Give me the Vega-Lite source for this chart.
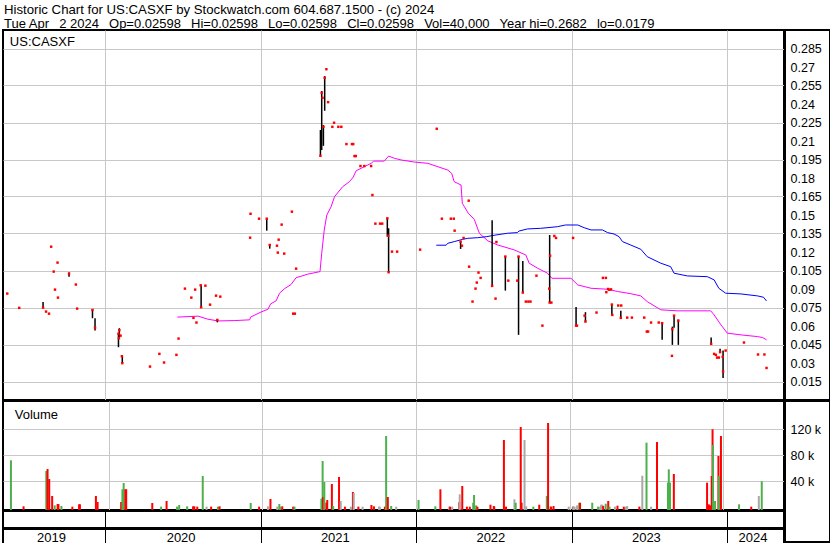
{
"$schema":"https://vega.github.io/schema/vega-lite/v6.json",
"background":"white",
"padding":{"left":2,"top":2,"right":1,"bottom":1},
"title":{"text":"Historic Chart for US:CASXF by Stockwatch.com 604.687.1500 - (c) 2024","subtitle":"Tue Apr\u2002 2 2024\u2002 Op=0.02598\u2002 Hi=0.02598\u2002 Lo=0.02598\u2002 Cl=0.02598\u2002 Vol=40,000\u2002 Year hi=0.2682\u2002 lo=0.0179","anchor":"start","frame":"group","font":"Liberation Sans","fontSize":13.2,"fontWeight":"normal","color":"black","subtitleFont":"Liberation Sans","subtitleFontSize":13,"subtitleColor":"black","subtitlePadding":1,"offset":-3,"dx":1},
"config":{"concat":{"spacing":-2},"view":{"stroke":"black","strokeWidth":2},"axis":{"gridColor":"#c8c8c8","gridWidth":1,"gridOpacity":1},"font":"Liberation Sans"},
"datasets":{
"prices":[
{"date":"2019-05-17","close":0.0863},
{"date":"2019-06-14","close":0.0747},
{"date":"2019-08-09","lo":0.0752,"hi":0.0795,"close":0.0749},
{"date":"2019-08-16","close":0.0717},
{"date":"2019-08-23","close":0.0700},
{"date":"2019-08-28","close":0.1243},
{"date":"2019-09-03","close":0.1041},
{"date":"2019-09-06","close":0.0895},
{"date":"2019-09-12","close":0.1114},
{"date":"2019-09-13","close":0.083},
{"date":"2019-10-09","lo":0.1000,"hi":0.1033,"close":0.1025},
{"date":"2019-10-25","close":0.0936},
{"date":"2019-10-28","close":0.0741},
{"date":"2019-12-03","lo":0.0663,"hi":0.0736,"close":0.073},
{"date":"2019-12-09","lo":0.0563,"hi":0.0663,"close":0.0587},
{"date":"2020-02-02","lo":0.0428,"hi":0.0538,"close":0.0538},
{"date":"2020-02-03","close":0.0501},
{"date":"2020-02-04","lo":0.0501,"hi":0.0582,"close":0.0566},
{"date":"2020-02-07","close":0.0522},
{"date":"2020-02-10","close":0.0355},
{"date":"2020-02-11","lo":0.0299,"hi":0.036,"close":0.0299},
{"date":"2020-04-16","close":0.0271},
{"date":"2020-05-08","close":0.0374},
{"date":"2020-05-19","close":0.0304},
{"date":"2020-06-17","close":0.0366},
{"date":"2020-06-22","close":0.0498},
{"date":"2020-07-07","close":0.0903},
{"date":"2020-07-22","close":0.083},
{"date":"2020-07-27","close":0.0666},
{"date":"2020-07-31","close":0.0895},
{"date":"2020-08-03","close":0.0628},
{"date":"2020-08-13","close":0.093},
{"date":"2020-08-14","lo":0.0752,"hi":0.093,"close":0.0752},
{"date":"2020-08-24","close":0.0927},
{"date":"2020-09-04","close":0.0773},
{"date":"2020-09-18","close":0.0846},
{"date":"2020-09-21","lo":0.063,"hi":0.0649,"close":0.0649},
{"date":"2020-09-28","close":0.0838},
{"date":"2020-12-07","close":0.1316},
{"date":"2020-12-08","close":0.151},
{"date":"2020-12-28","close":0.147},
{"date":"2021-01-15","lo":0.1373,"hi":0.1473,"close":0.147},
{"date":"2021-01-22","lo":0.1227,"hi":0.1257,"close":0.1257},
{"date":"2021-02-08","close":0.1251},
{"date":"2021-02-10","close":0.1195},
{"date":"2021-02-12","close":0.130},
{"date":"2021-02-19","close":0.1422},
{"date":"2021-02-25","close":0.1187},
{"date":"2021-03-15","close":0.1527},
{"date":"2021-03-18","close":0.07},
{"date":"2021-03-22","close":0.07},
{"date":"2021-03-25","close":0.1065},
{"date":"2021-05-21","lo":0.1986,"hi":0.2189,"close":0.198},
{"date":"2021-05-24","lo":0.2027,"hi":0.2505,"close":0.249},
{"date":"2021-05-26","close":0.245},
{"date":"2021-05-28","lo":0.2061,"hi":0.2229,"close":0.2215},
{"date":"2021-05-31","lo":0.2345,"hi":0.2626,"close":0.2612},
{"date":"2021-06-04","close":0.2682},
{"date":"2021-06-08","close":0.2415},
{"date":"2021-06-18","close":0.2215},
{"date":"2021-06-22","close":0.2248},
{"date":"2021-07-02","close":0.2215},
{"date":"2021-07-09","close":0.2215},
{"date":"2021-07-21","close":0.2075},
{"date":"2021-08-03","close":0.2075},
{"date":"2021-08-06","close":0.2075},
{"date":"2021-08-09","close":0.1978},
{"date":"2021-08-12","close":0.1978},
{"date":"2021-08-23","close":0.1897},
{"date":"2021-09-01","close":0.1897},
{"date":"2021-09-17","close":0.1897},
{"date":"2021-09-20","close":0.1662},
{"date":"2021-09-27","close":0.143},
{"date":"2021-10-08","close":0.143},
{"date":"2021-10-13","close":0.143},
{"date":"2021-10-25","lo":0.1324,"hi":0.1473,"close":0.1473},
{"date":"2021-10-27","close":0.1332},
{"date":"2021-10-28","lo":0.1036,"hi":0.1392,"close":0.1036},
{"date":"2021-11-05","close":0.1203},
{"date":"2021-11-17","close":0.1203},
{"date":"2022-01-10","close":0.1219},
{"date":"2022-02-18","close":0.2199},
{"date":"2022-03-02","close":0.147},
{"date":"2022-03-23","close":0.147},
{"date":"2022-03-30","close":0.147},
{"date":"2022-04-01","close":0.1373},
{"date":"2022-04-15","lo":0.1225,"hi":0.1284,"close":0.1284},
{"date":"2022-04-18","close":0.1251},
{"date":"2022-04-22","close":0.1314},
{"date":"2022-05-04","close":0.1616},
{"date":"2022-05-05","close":0.1081},
{"date":"2022-05-13","close":0.0798},
{"date":"2022-05-20","close":0.0903},
{"date":"2022-05-23","close":0.0952},
{"date":"2022-05-27","close":0.1033},
{"date":"2022-06-01","close":0.099},
{"date":"2022-06-28","lo":0.0925,"hi":0.1457,"close":0.0925},
{"date":"2022-07-06","close":0.0822},
{"date":"2022-07-08","close":0.1281},
{"date":"2022-07-29","lo":0.0887,"hi":0.1166,"close":0.1163},
{"date":"2022-08-05","close":0.0968},
{"date":"2022-08-26","close":0.0968},
{"date":"2022-08-29","lo":0.0528,"hi":0.1166,"close":0.1163},
{"date":"2022-09-08","lo":0.0871,"hi":0.1127,"close":0.0871},
{"date":"2022-09-15","close":0.0798},
{"date":"2022-09-21","close":0.0798},
{"date":"2022-09-26","close":0.0798},
{"date":"2022-10-10","close":0.1008},
{"date":"2022-10-24","close":0.0603},
{"date":"2022-11-09","close":0.0903},
{"date":"2022-11-10","lo":0.079,"hi":0.1338,"close":0.079},
{"date":"2022-11-11","close":0.117},
{"date":"2022-11-14","close":0.079},
{"date":"2022-11-21","close":0.133},
{"date":"2022-11-25","close":0.1314},
{"date":"2023-01-04","close":0.1314},
{"date":"2023-01-11","lo":0.0603,"hi":0.0755,"close":0.0603},
{"date":"2023-01-13","close":0.0603},
{"date":"2023-01-31","close":0.0684},
{"date":"2023-02-02","lo":0.0636,"hi":0.0712,"close":0.0636},
{"date":"2023-02-28","close":0.0709},
{"date":"2023-03-15","close":0.099},
{"date":"2023-03-22","close":0.099},
{"date":"2023-03-23","close":0.0874},
{"date":"2023-03-27","close":0.090},
{"date":"2023-03-30","close":0.0894},
{"date":"2023-04-03","close":0.0897},
{"date":"2023-04-05","lo":0.0693,"hi":0.0774,"close":0.0774},
{"date":"2023-04-06","close":0.069},
{"date":"2023-04-20","close":0.0766},
{"date":"2023-04-26","lo":0.0666,"hi":0.0723,"close":0.0666},
{"date":"2023-04-27","close":0.0766},
{"date":"2023-05-11","close":0.0668},
{"date":"2023-05-22","close":0.0668},
{"date":"2023-06-20","close":0.0668},
{"date":"2023-06-26","close":0.0555},
{"date":"2023-06-29","close":0.0555},
{"date":"2023-07-06","close":0.0628},
{"date":"2023-07-24","close":0.0628},
{"date":"2023-08-01","lo":0.0488,"hi":0.0623,"close":0.0623},
{"date":"2023-08-24","close":0.0358},
{"date":"2023-08-25","lo":0.0447,"hi":0.0595,"close":0.0574},
{"date":"2023-08-29","lo":0.0586,"hi":0.0684,"close":0.0684},
{"date":"2023-09-08","lo":0.0447,"hi":0.065,"close":0.0644},
{"date":"2023-11-24","lo":0.0455,"hi":0.0506,"close":0.0455},
{"date":"2023-12-01","close":0.0374},
{"date":"2023-12-05","close":0.0366},
{"date":"2023-12-08","close":0.0344},
{"date":"2023-12-12","close":0.0344},
{"date":"2023-12-15","lo":0.0388,"hi":0.0415,"close":0.0388},
{"date":"2023-12-21","close":0.035},
{"date":"2023-12-22","lo":0.0179,"hi":0.0401,"close":0.0231},
{"date":"2023-12-28","close":0.0401},
{"date":"2024-02-09","close":0.0466},
{"date":"2024-03-13","close":0.0369},
{"date":"2024-03-28","close":0.0369},
{"date":"2024-04-02","close":0.02598}
],
"averages":[
{"date":"2020-06-19","series":"short","value":0.0672},
{"date":"2020-08-07","series":"short","value":0.068},
{"date":"2020-08-30","series":"short","value":0.0655},
{"date":"2020-09-23","series":"short","value":0.0641},
{"date":"2020-11-01","series":"short","value":0.0644},
{"date":"2020-12-06","series":"short","value":0.065},
{"date":"2020-12-08","series":"short","value":0.0672},
{"date":"2021-01-02","series":"short","value":0.0714},
{"date":"2021-01-18","series":"short","value":0.0736},
{"date":"2021-01-24","series":"short","value":0.0779},
{"date":"2021-02-06","series":"short","value":0.0804},
{"date":"2021-02-14","series":"short","value":0.0866},
{"date":"2021-02-26","series":"short","value":0.0903},
{"date":"2021-03-13","series":"short","value":0.0936},
{"date":"2021-03-25","series":"short","value":0.0992},
{"date":"2021-04-06","series":"short","value":0.1004},
{"date":"2021-04-21","series":"short","value":0.102},
{"date":"2021-05-20","series":"short","value":0.1041},
{"date":"2021-05-24","series":"short","value":0.119},
{"date":"2021-05-30","series":"short","value":0.1379},
{"date":"2021-06-05","series":"short","value":0.15},
{"date":"2021-06-15","series":"short","value":0.1567},
{"date":"2021-06-23","series":"short","value":0.1648},
{"date":"2021-07-12","series":"short","value":0.1729},
{"date":"2021-07-28","series":"short","value":0.177},
{"date":"2021-08-05","series":"short","value":0.1802},
{"date":"2021-08-13","series":"short","value":0.1859},
{"date":"2021-09-17","series":"short","value":0.1919},
{"date":"2021-09-23","series":"short","value":0.1937},
{"date":"2021-10-18","series":"short","value":0.1937},
{"date":"2021-10-28","series":"short","value":0.1978},
{"date":"2021-11-11","series":"short","value":0.1959},
{"date":"2021-11-27","series":"short","value":0.1946},
{"date":"2021-12-28","series":"short","value":0.1929},
{"date":"2022-01-28","series":"short","value":0.1919},
{"date":"2022-02-21","series":"short","value":0.1891},
{"date":"2022-03-16","series":"short","value":0.1864},
{"date":"2022-03-25","series":"short","value":0.1838},
{"date":"2022-03-31","series":"short","value":0.177},
{"date":"2022-04-16","series":"short","value":0.1743},
{"date":"2022-04-19","series":"short","value":0.1595},
{"date":"2022-04-24","series":"short","value":0.1567},
{"date":"2022-05-03","series":"short","value":0.1514},
{"date":"2022-05-17","series":"short","value":0.1465},
{"date":"2022-05-29","series":"short","value":0.1352},
{"date":"2022-06-18","series":"short","value":0.129},
{"date":"2022-07-11","series":"short","value":0.1257},
{"date":"2022-08-19","series":"short","value":0.1217},
{"date":"2022-09-15","series":"short","value":0.1176},
{"date":"2022-09-23","series":"short","value":0.1109},
{"date":"2022-10-13","series":"short","value":0.1068},
{"date":"2022-11-05","series":"short","value":0.1028},
{"date":"2022-11-15","series":"short","value":0.0987},
{"date":"2022-12-30","series":"short","value":0.0987},
{"date":"2023-01-15","series":"short","value":0.0933},
{"date":"2023-02-15","series":"short","value":0.0906},
{"date":"2023-03-26","series":"short","value":0.0898},
{"date":"2023-04-18","series":"short","value":0.088},
{"date":"2023-05-19","series":"short","value":0.0862},
{"date":"2023-06-12","series":"short","value":0.0844},
{"date":"2023-06-27","series":"short","value":0.0798},
{"date":"2023-07-29","series":"short","value":0.0731},
{"date":"2023-09-06","series":"short","value":0.0723},
{"date":"2023-11-23","series":"short","value":0.0723},
{"date":"2023-12-01","series":"short","value":0.069},
{"date":"2023-12-17","series":"short","value":0.0609},
{"date":"2024-01-01","series":"short","value":0.0542},
{"date":"2024-02-02","series":"short","value":0.0528},
{"date":"2024-03-12","series":"short","value":0.0514},
{"date":"2024-03-24","series":"short","value":0.0506},
{"date":"2024-04-02","series":"short","value":0.0488},
{"date":"2022-02-17","series":"long","value":0.1255},
{"date":"2022-03-12","series":"long","value":0.1255},
{"date":"2022-03-16","series":"long","value":0.1271},
{"date":"2022-03-31","series":"long","value":0.1284},
{"date":"2022-04-20","series":"long","value":0.1303},
{"date":"2022-05-02","series":"long","value":0.1311},
{"date":"2022-05-25","series":"long","value":0.1316},
{"date":"2022-06-14","series":"long","value":0.1324},
{"date":"2022-07-07","series":"long","value":0.1338},
{"date":"2022-08-03","series":"long","value":0.1352},
{"date":"2022-08-26","series":"long","value":0.1357},
{"date":"2022-08-30","series":"long","value":0.137},
{"date":"2022-09-19","series":"long","value":0.1387},
{"date":"2022-10-20","series":"long","value":0.1392},
{"date":"2022-11-28","series":"long","value":0.1405},
{"date":"2022-12-17","series":"long","value":0.1419},
{"date":"2023-01-15","series":"long","value":0.1419},
{"date":"2023-01-30","series":"long","value":0.1397},
{"date":"2023-02-15","series":"long","value":0.1379},
{"date":"2023-03-14","series":"long","value":0.1379},
{"date":"2023-03-26","series":"long","value":0.1357},
{"date":"2023-04-10","series":"long","value":0.1346},
{"date":"2023-04-22","series":"long","value":0.1324},
{"date":"2023-04-30","series":"long","value":0.1284},
{"date":"2023-05-19","series":"long","value":0.1257},
{"date":"2023-06-12","series":"long","value":0.1222},
{"date":"2023-06-27","series":"long","value":0.1162},
{"date":"2023-07-29","series":"long","value":0.1109},
{"date":"2023-08-21","series":"long","value":0.1081},
{"date":"2023-08-29","series":"long","value":0.1028},
{"date":"2023-09-29","series":"long","value":0.1006},
{"date":"2023-11-15","series":"long","value":0.1},
{"date":"2023-12-01","series":"long","value":0.0974},
{"date":"2023-12-12","series":"long","value":0.0906},
{"date":"2023-12-28","series":"long","value":0.0866},
{"date":"2024-02-02","series":"long","value":0.086},
{"date":"2024-03-12","series":"long","value":0.0844},
{"date":"2024-03-26","series":"long","value":0.0833},
{"date":"2024-04-02","series":"long","value":0.0803}
],
"volume":[
{"date":"2019-05-14","volume":72300,"dir":"up"},
{"date":"2019-06-13","volume":1500,"dir":"down"},
{"date":"2019-08-06","volume":55800,"dir":"up"},
{"date":"2019-08-09","volume":58900,"dir":"down"},
{"date":"2019-08-13","volume":43500,"dir":"down"},
{"date":"2019-08-20","volume":17400,"dir":"down"},
{"date":"2019-08-26","volume":3000,"dir":"up"},
{"date":"2019-09-02","volume":5000,"dir":"down"},
{"date":"2019-09-04","volume":5000,"dir":"down"},
{"date":"2019-09-11","volume":2000,"dir":"up"},
{"date":"2019-10-07","volume":1000,"dir":"down"},
{"date":"2019-10-23","volume":4600,"dir":"down"},
{"date":"2019-10-25","volume":4600,"dir":"down"},
{"date":"2019-12-02","volume":17400,"dir":"down"},
{"date":"2019-12-06","volume":8200,"dir":"down"},
{"date":"2020-01-31","volume":8200,"dir":"down"},
{"date":"2020-02-03","volume":27700,"dir":"up"},
{"date":"2020-02-06","volume":37400,"dir":"up"},
{"date":"2020-02-10","volume":27700,"dir":"down"},
{"date":"2020-02-12","volume":27700,"dir":"down"},
{"date":"2020-04-14","volume":6600,"dir":"down"},
{"date":"2020-05-05","volume":1000,"dir":"up"},
{"date":"2020-05-18","volume":9700,"dir":"down"},
{"date":"2020-06-12","volume":1000,"dir":"up"},
{"date":"2020-06-17","volume":3500,"dir":"up"},
{"date":"2020-07-06","volume":1500,"dir":"up"},
{"date":"2020-07-20","volume":1500,"dir":"down"},
{"date":"2020-07-23","volume":1500,"dir":"down"},
{"date":"2020-07-30","volume":1000,"dir":"down"},
{"date":"2020-08-12","volume":48100,"dir":"up"},
{"date":"2020-08-21","volume":1000,"dir":"flat"},
{"date":"2020-09-01","volume":1000,"dir":"down"},
{"date":"2020-09-17","volume":1000,"dir":"up"},
{"date":"2020-09-21","volume":1500,"dir":"down"},
{"date":"2020-12-04","volume":6600,"dir":"up"},
{"date":"2020-12-24","volume":1000,"dir":"down"},
{"date":"2021-01-14","volume":1500,"dir":"flat"},
{"date":"2021-01-20","volume":12800,"dir":"down"},
{"date":"2021-02-05","volume":1000,"dir":"flat"},
{"date":"2021-02-10","volume":5000,"dir":"up"},
{"date":"2021-02-12","volume":1000,"dir":"up"},
{"date":"2021-02-17","volume":1500,"dir":"down"},
{"date":"2021-03-15","volume":1000,"dir":"down"},
{"date":"2021-03-18","volume":1000,"dir":"up"},
{"date":"2021-05-21","volume":13300,"dir":"up"},
{"date":"2021-05-24","volume":71200,"dir":"up"},
{"date":"2021-05-25","volume":15800,"dir":"down"},
{"date":"2021-05-28","volume":38900,"dir":"up"},
{"date":"2021-06-02","volume":7100,"dir":"down"},
{"date":"2021-06-04","volume":11200,"dir":"down"},
{"date":"2021-06-15","volume":35800,"dir":"down"},
{"date":"2021-06-18","volume":2000,"dir":"up"},
{"date":"2021-07-02","volume":46600,"dir":"down"},
{"date":"2021-07-06","volume":9700,"dir":"flat"},
{"date":"2021-07-16","volume":1000,"dir":"down"},
{"date":"2021-07-30","volume":1000,"dir":"flat"},
{"date":"2021-08-04","volume":23500,"dir":"down"},
{"date":"2021-08-06","volume":22000,"dir":"flat"},
{"date":"2021-08-17","volume":1000,"dir":"down"},
{"date":"2021-08-27","volume":1000,"dir":"flat"},
{"date":"2021-09-17","volume":3500,"dir":"down"},
{"date":"2021-09-23","volume":1500,"dir":"down"},
{"date":"2021-10-05","volume":1000,"dir":"flat"},
{"date":"2021-10-07","volume":1000,"dir":"flat"},
{"date":"2021-10-19","volume":1000,"dir":"down"},
{"date":"2021-10-22","volume":109700,"dir":"up"},
{"date":"2021-10-26","volume":15800,"dir":"down"},
{"date":"2021-11-03","volume":2000,"dir":"up"},
{"date":"2021-11-15","volume":1000,"dir":"flat"},
{"date":"2022-01-07","volume":11200,"dir":"up"},
{"date":"2022-02-16","volume":1500,"dir":"up"},
{"date":"2022-02-28","volume":27700,"dir":"down"},
{"date":"2022-03-21","volume":1000,"dir":"flat"},
{"date":"2022-03-23","volume":1000,"dir":"down"},
{"date":"2022-03-28","volume":1000,"dir":"flat"},
{"date":"2022-04-14","volume":8000,"dir":"down"},
{"date":"2022-04-15","volume":20000,"dir":"flat"},
{"date":"2022-04-21","volume":32800,"dir":"down"},
{"date":"2022-05-02","volume":1000,"dir":"down"},
{"date":"2022-05-09","volume":1000,"dir":"down"},
{"date":"2022-05-17","volume":7000,"dir":"up"},
{"date":"2022-05-19","volume":19000,"dir":"up"},
{"date":"2022-05-24","volume":3000,"dir":"up"},
{"date":"2022-05-27","volume":1000,"dir":"down"},
{"date":"2022-06-27","volume":4000,"dir":"down"},
{"date":"2022-07-05","volume":2000,"dir":"down"},
{"date":"2022-07-06","volume":1000,"dir":"down"},
{"date":"2022-07-29","volume":103500,"dir":"down"},
{"date":"2022-08-03","volume":1000,"dir":"down"},
{"date":"2022-08-23","volume":12300,"dir":"flat"},
{"date":"2022-08-26","volume":7000,"dir":"up"},
{"date":"2022-09-07","volume":123500,"dir":"down"},
{"date":"2022-09-09","volume":7000,"dir":"down"},
{"date":"2022-09-16","volume":103500,"dir":"flat"},
{"date":"2022-09-20","volume":1500,"dir":"flat"},
{"date":"2022-10-07","volume":1000,"dir":"up"},
{"date":"2022-10-21","volume":4000,"dir":"down"},
{"date":"2022-11-08","volume":17400,"dir":"up"},
{"date":"2022-11-11","volume":129700,"dir":"down"},
{"date":"2022-11-17","volume":1000,"dir":"up"},
{"date":"2022-11-18","volume":1000,"dir":"down"},
{"date":"2022-11-24","volume":2000,"dir":"down"},
{"date":"2022-12-30","volume":1000,"dir":"flat"},
{"date":"2023-01-09","volume":1000,"dir":"down"},
{"date":"2023-01-10","volume":1000,"dir":"flat"},
{"date":"2023-01-13","volume":1000,"dir":"flat"},
{"date":"2023-01-19","volume":3000,"dir":"flat"},
{"date":"2023-01-24","volume":7000,"dir":"up"},
{"date":"2023-01-26","volume":7000,"dir":"down"},
{"date":"2023-02-24","volume":7000,"dir":"up"},
{"date":"2023-03-10","volume":1000,"dir":"up"},
{"date":"2023-03-15","volume":1000,"dir":"flat"},
{"date":"2023-03-17","volume":4000,"dir":"flat"},
{"date":"2023-03-20","volume":4000,"dir":"flat"},
{"date":"2023-03-22","volume":2000,"dir":"down"},
{"date":"2023-03-28","volume":5500,"dir":"up"},
{"date":"2023-04-03","volume":9700,"dir":"down"},
{"date":"2023-04-06","volume":1000,"dir":"up"},
{"date":"2023-04-19","volume":1000,"dir":"flat"},
{"date":"2023-04-25","volume":2500,"dir":"down"},
{"date":"2023-05-10","volume":1000,"dir":"down"},
{"date":"2023-05-15","volume":1000,"dir":"flat"},
{"date":"2023-05-18","volume":2000,"dir":"flat"},
{"date":"2023-06-16","volume":1000,"dir":"down"},
{"date":"2023-06-23","volume":48600,"dir":"flat"},
{"date":"2023-07-03","volume":99400,"dir":"up"},
{"date":"2023-07-14","volume":1000,"dir":"flat"},
{"date":"2023-07-28","volume":100400,"dir":"down"},
{"date":"2023-08-23","volume":37900,"dir":"up"},
{"date":"2023-08-25","volume":58400,"dir":"up"},
{"date":"2023-08-28","volume":37900,"dir":"up"},
{"date":"2023-09-06","volume":51200,"dir":"down"},
{"date":"2023-11-24","volume":37900,"dir":"down"},
{"date":"2023-11-28","volume":4600,"dir":"down"},
{"date":"2023-12-01","volume":3000,"dir":"down"},
{"date":"2023-12-05","volume":48100,"dir":"down"},
{"date":"2023-12-07","volume":120000,"dir":"down"},
{"date":"2023-12-08","volume":95800,"dir":"up"},
{"date":"2023-12-13","volume":9700,"dir":"up"},
{"date":"2023-12-21","volume":78900,"dir":"down"},
{"date":"2023-12-22","volume":48100,"dir":"up"},
{"date":"2023-12-27","volume":109700,"dir":"down"},
{"date":"2024-02-08","volume":4600,"dir":"up"},
{"date":"2024-03-08","volume":1000,"dir":"down"},
{"date":"2024-03-26","volume":17400,"dir":"flat"},
{"date":"2024-04-02","volume":40000,"dir":"up"}
],
"years":[
{"year":"2019","date":"2019-08-29"},
{"year":"2020","date":"2020-06-28"},
{"year":"2021","date":"2021-06-25"},
{"year":"2022","date":"2022-06-25"},
{"year":"2023","date":"2023-06-25"},
{"year":"2024","date":"2024-03-01"}
],
"labels":[
{"panel":"price","label":"US:CASXF"},
{"panel":"volume","label":"Volume"}
]
},
"hconcat":[
{"vconcat":[
{"width":781,"height":370,
"layer":[
{"data":{"name":"averages"},"transform":[{"filter":"datum.series === 'short'"}],"mark":{"type":"line","color":"#ff00ff","strokeWidth":1},
"encoding":{"x":{"field":"date","type":"temporal","scale":{"type":"utc","domain":[{"year":2019,"month":5,"date":7,"utc":true},{"year":2024,"month":5,"date":13,"utc":true}]},"axis":{"values":[{"year":2020,"month":1,"date":1,"utc":true},{"year":2021,"month":1,"date":1,"utc":true},{"year":2022,"month":1,"date":1,"utc":true},{"year":2023,"month":1,"date":1,"utc":true},{"year":2024,"month":1,"date":1,"utc":true}],"grid":true,"labels":false,"ticks":false,"domain":false,"title":null}},
"y":{"field":"value","type":"quantitative","scale":{"domain":[0,0.3],"nice":false},"axis":{"values":[0.015,0.03,0.045,0.06,0.075,0.09,0.105,0.12,0.135,0.15,0.165,0.18,0.195,0.21,0.225,0.24,0.255,0.27,0.285],"grid":true,"labels":false,"ticks":false,"domain":false,"title":null}}}},
{"data":{"name":"averages"},"transform":[{"filter":"datum.series === 'long'"}],"mark":{"type":"line","color":"#0000ff","strokeWidth":1},
"encoding":{"x":{"field":"date","type":"temporal"},"y":{"field":"value","type":"quantitative"}}},
{"data":{"name":"prices"},"transform":[{"filter":"isValid(datum.hi)"}],"mark":{"type":"rule","color":"black","strokeWidth":1.5},
"encoding":{"x":{"field":"date","type":"temporal"},"y":{"field":"lo","type":"quantitative"},"y2":{"field":"hi"}}},
{"data":{"name":"prices"},"mark":{"type":"square","color":"#ff0000","size":6,"filled":true,"opacity":1},
"encoding":{"x":{"field":"date","type":"temporal"},"y":{"field":"close","type":"quantitative"}}},
{"data":{"name":"labels"},"transform":[{"filter":"datum.panel === 'price'"}],"mark":{"type":"text","align":"left","baseline":"top","font":"Liberation Sans","fontSize":13,"color":"black"},
"encoding":{"x":{"datum":{"year":2019,"month":5,"date":23,"utc":true},"type":"temporal"},"y":{"datum":0.2951,"type":"quantitative"},"text":{"field":"label"}}}
]},
{"width":781,"height":109,
"layer":[
{"data":{"name":"volume"},"mark":{"type":"bar","size":2},
"encoding":{"x":{"field":"date","type":"temporal","scale":{"type":"utc","domain":[{"year":2019,"month":5,"date":7,"utc":true},{"year":2024,"month":5,"date":13,"utc":true}]},"axis":{"values":[{"year":2020,"month":1,"date":1,"utc":true},{"year":2021,"month":1,"date":1,"utc":true},{"year":2022,"month":1,"date":1,"utc":true},{"year":2023,"month":1,"date":1,"utc":true},{"year":2024,"month":1,"date":1,"utc":true}],"grid":true,"labels":false,"ticks":false,"domain":false,"title":null}},
"y":{"field":"volume","type":"quantitative","scale":{"domain":[-4150,163500],"nice":false,"zero":false},"axis":{"values":[40000,80000,120000],"grid":true,"labels":false,"ticks":false,"domain":false,"title":null}},
"y2":{"datum":-4150},
"color":{"field":"dir","type":"nominal","scale":{"domain":["up","down","flat"],"range":["#4cb04c","#ff0000","#a8a8a8"]},"legend":null}}},
{"data":{"name":"labels"},"transform":[{"filter":"datum.panel === 'volume'"}],"mark":{"type":"text","align":"left","baseline":"top","font":"Liberation Sans","fontSize":13,"color":"black"},
"encoding":{"x":{"datum":{"year":2019,"month":5,"date":23,"utc":true},"type":"temporal"},"y":{"datum":151200,"type":"quantitative"},"text":{"field":"label"}}}
]},
{"width":781,"height":17,"data":{"name":"years"},"mark":{"type":"point","opacity":0},
"encoding":{"x":{"field":"date","type":"temporal","scale":{"type":"utc","domain":[{"year":2019,"month":5,"date":7,"utc":true},{"year":2024,"month":5,"date":13,"utc":true}]},"axis":{"values":[{"year":2020,"month":1,"date":1,"utc":true},{"year":2021,"month":1,"date":1,"utc":true},{"year":2022,"month":1,"date":1,"utc":true},{"year":2023,"month":1,"date":1,"utc":true},{"year":2024,"month":1,"date":1,"utc":true}],"grid":true,"gridColor":"black","labels":false,"ticks":false,"domain":false,"title":null}}}},
{"width":781,"height":15,"data":{"name":"years"},"mark":{"type":"text","font":"Liberation Sans","fontSize":13,"color":"black","baseline":"middle","dy":1},
"encoding":{"x":{"field":"date","type":"temporal","scale":{"type":"utc","domain":[{"year":2019,"month":5,"date":7,"utc":true},{"year":2024,"month":5,"date":13,"utc":true}]},"axis":{"values":[{"year":2020,"month":1,"date":1,"utc":true},{"year":2021,"month":1,"date":1,"utc":true},{"year":2022,"month":1,"date":1,"utc":true},{"year":2023,"month":1,"date":1,"utc":true},{"year":2024,"month":1,"date":1,"utc":true}],"grid":true,"gridColor":"black","labels":false,"ticks":false,"domain":false,"title":null}},
"text":{"field":"year","type":"nominal"}}}
]},
{"vconcat":[
{"width":45,"height":370,"data":{"name":"prices"},"mark":{"type":"point","opacity":0},
"encoding":{"y":{"field":"close","type":"quantitative","scale":{"domain":[0,0.3],"nice":false},"axis":{"orient":"left","values":[0.015,0.03,0.045,0.06,0.075,0.09,0.105,0.12,0.135,0.15,0.165,0.18,0.195,0.21,0.225,0.24,0.255,0.27,0.285],"format":".3~f","labelAlign":"left","labelBaseline":"middle","labelPadding":-5,"ticks":false,"tickSize":0,"domain":false,"grid":false,"title":null,"labelFont":"Liberation Sans","labelFontSize":12.5,"labelColor":"black","labelOverlap":false}}}},
{"width":45,"height":141,"data":{"name":"volume"},"mark":{"type":"point","opacity":0},
"encoding":{"y":{"field":"volume","type":"quantitative","scale":{"domain":[-53358,163500],"nice":false,"zero":false},"axis":{"orient":"left","values":[40000,80000,120000],"labelExpr":"(datum.value/1000) + ' k'","labelAlign":"left","labelBaseline":"middle","labelPadding":-5,"ticks":false,"tickSize":0,"domain":false,"grid":false,"title":null,"labelFont":"Liberation Sans","labelFontSize":12.5,"labelColor":"black","labelOverlap":false}}}}
]}
]
}
